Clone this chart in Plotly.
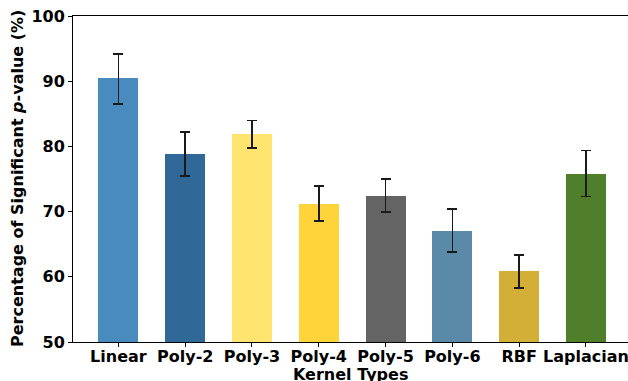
import plotly.graph_objects as go

categories = ["Linear", "Poly-2", "Poly-3", "Poly-4", "Poly-5", "Poly-6", "RBF", "Laplacian"]
values = [90.5, 78.8, 81.9, 71.2, 72.4, 67.0, 60.9, 75.8]
err_plus = [3.7, 3.4, 2.1, 2.7, 2.6, 3.4, 2.4, 3.6]
err_minus = [4.0, 3.3, 2.1, 2.6, 2.5, 3.2, 2.6, 3.5]
colors = ["#4A8BBF", "#306998", "#FFE56F", "#FFD43B", "#646464", "#5B8AA9", "#D4AF37", "#4F7F2B"]
yticks = [50, 60, 70, 80, 90, 100]

fig = go.Figure()
fig.add_trace(go.Bar(
    x=list(range(len(categories))),
    y=values,
    width=0.6,
    marker=dict(color=colors, line=dict(width=0)),
    error_y=dict(type="data", symmetric=False, array=err_plus, arrayminus=err_minus,
                 color="#1a1a1a", thickness=1.6, width=5),
))

font_family = "DejaVu Sans, Verdana, sans-serif"
fs = 16
fig.update_layout(
    width=628, height=381,
    margin=dict(l=73, r=0, t=16, b=39, autoexpand=False),
    paper_bgcolor="white", plot_bgcolor="white",
    showlegend=False,
    font=dict(family=font_family, size=fs, color="black"),
    bargap=0,
)
fig.update_xaxes(
    range=[-0.68, 7.63], automargin=False, ticklabeloverflow="allow",
    tickmode="array", tickvals=list(range(len(categories))),
    ticktext=["<b>%s</b>" % c for c in categories],
    ticks="outside", ticklen=4, tickwidth=1, tickcolor="black",
    ticklabelstandoff=-4,
    showline=True, linecolor="black", linewidth=1, mirror=True,
    showgrid=False, zeroline=False,
    tickfont=dict(size=fs, family=font_family),
)
fig.update_yaxes(
    range=[50, 100], automargin=False, ticklabeloverflow="allow",
    tickmode="array", tickvals=yticks, ticktext=["<b>%d</b>" % t for t in yticks],
    ticks="outside", ticklen=4, tickwidth=1, tickcolor="black",
    showline=True, linecolor="black", linewidth=1, mirror=False,
    showgrid=False, zeroline=False,
    tickfont=dict(size=fs, family=font_family),
)
fig.add_annotation(text="<b>Kernel Types</b>", xref="paper", yref="paper",
                   x=0.5, y=0, yshift=-32, xanchor="center", yanchor="middle",
                   showarrow=False, font=dict(size=fs, family=font_family))
fig.add_annotation(text="<b>Percentage of Significant <i>p</i>-value (%)</b>", xref="paper", yref="paper",
                   x=0, y=0.5, xshift=-56, xanchor="center", yanchor="middle", textangle=-90,
                   showarrow=False, font=dict(size=fs, family=font_family))
fig.write_html("out.html", config={"displayModeBar": False},
               post_script="document.body.style.margin='0';document.body.style.overflow='hidden';")
